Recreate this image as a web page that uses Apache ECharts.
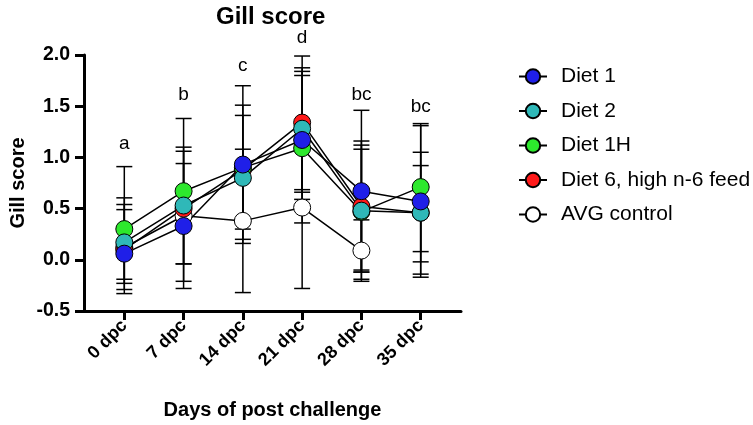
<!DOCTYPE html>
<html><head><meta charset="utf-8">
<script src="https://cdn.jsdelivr.net/npm/echarts@6/dist/echarts.min.js"></script>
<style>html,body{margin:0;padding:0;background:#fff}#c{width:753px;height:425px}</style>
</head><body><div id="c"></div>
<script>
const categories = ['0 dpc','7 dpc','14 dpc','21 dpc','28 dpc','35 dpc'];
const yTicks = [-0.5, 0.0, 0.5, 1.0, 1.5, 2.0];

const diet1     = [0.06, 0.33, 0.93, 1.17, 0.67, 0.57];
const diet1Low  = [-0.33, -0.28, 0.16, 0.59, -0.12, -0.17];
const diet1High = [0.49, 0.94, 1.70, 1.80, 1.46, 1.31];

const diet2     = [0.17, 0.53, 0.80, 1.28, 0.48, 0.46];
const diet2Low  = [-0.23, -0.04, 0.20, 0.685, -0.10, -0.02];
const diet2High = [0.54, 1.10, 1.41, 1.875, 1.08, 0.92];

const diet1H     = [0.30, 0.67, 0.90, 1.09, 0.47, 0.71];
const diet1HLow  = [-0.29, -0.04, 0.30, 0.36, -0.19, 0.08];
const diet1HHigh = [0.91, 1.38, 1.51, 1.84, 1.12, 1.33];

const diet6     = [0.10, 0.50, 0.88, 1.34, 0.52, 0.46];
const diet6Low  = [-0.19, null, null, 0.66, -0.12, -0.14];
const diet6High = [0.605, null, null, 1.99, 1.16, 1.05];

const avgControl     = [0.12, 0.43, 0.38, 0.51, 0.09, null];
const avgControlLow  = [null, -0.21, -0.32, -0.28, -0.21, null];
const avgControlHigh = [null, 1.06, 1.08, 1.30, 0.39, null];

const letters  = ['a', 'b', 'c', 'd', 'bc', 'bc'];
const letterY  = [1.13, 1.61, 1.89, 2.17, 1.61, 1.49];

const FONT = 'Liberation Sans, Arial, Helvetica, sans-serif';

function errData(lo, hi) {
  const out = [];
  categories.forEach((c, i) => { if (lo[i] != null && hi[i] != null) out.push([i, lo[i], hi[i]]); });
  return out;
}
function renderErr(params, api) {
  const x = api.value(0), lo = api.value(1), hi = api.value(2);
  const pt = api.coord([x, hi]), pb = api.coord([x, lo]);
  const w = 8;
  const st = { stroke: '#000', lineWidth: 1.5 };
  return { type: 'group', children: [
    { type: 'line', shape: { x1: pt[0], y1: pt[1], x2: pb[0], y2: pb[1] }, style: st },
    { type: 'line', shape: { x1: pt[0] - w, y1: pt[1], x2: pt[0] + w, y2: pt[1] }, style: st },
    { type: 'line', shape: { x1: pb[0] - w, y1: pb[1], x2: pb[0] + w, y2: pb[1] }, style: st }
  ]};
}
function pts(v) { return v.map((y, i) => y == null ? [i, null] : [i, y]); }
function lineSeries(name, values, color) {
  return {
    name, type: 'line', data: pts(values), symbol: 'circle', symbolSize: 17,
    itemStyle: { color, borderColor: '#000', borderWidth: 1, opacity: 1 },
    lineStyle: { color: '#000', width: 1.5 }, z: 3
  };
}
function errSeries(lo, hi) {
  return { type: 'custom', renderItem: renderErr, data: errData(lo, hi), z: 2, silent: true };
}

const chart = echarts.init(document.getElementById('c'));
chart.setOption({
  animation: false,
  backgroundColor: '#fff',
  textStyle: { fontFamily: FONT },
  title: { text: 'Gill score', left: 211, top: 0,
    textStyle: { fontFamily: FONT, fontSize: 24, fontWeight: 'bold', color: '#000' } },
  grid: { left: 77, right: 292, top: 55, bottom: 114, containLabel: false },
  legend: {
    orient: 'vertical', left: 513, top: 61, itemWidth: 28, itemHeight: 18, itemGap: 13.5,
    data: ['Diet 1', 'Diet 2', 'Diet 1H', 'Diet 6, high n-6 feed', 'AVG control'],
    textStyle: { fontFamily: FONT, fontSize: 21, color: '#000', padding: [0, 0, 0, 9] }
  },
  xAxis: {
    type: 'value', min: -0.68, max: 5.68,
    splitLine: { show: false },
    axisLine: { show: true, onZero: false, lineStyle: { color: '#000', width: 3 } },
    axisTick: { show: true, customValues: [0, 1, 2, 3, 4, 5], length: 9, lineStyle: { color: '#000', width: 3 } },
    axisLabel: { customValues: [0, 1, 2, 3, 4, 5], formatter: v => categories[Math.round(v)], rotate: 45,
      fontFamily: FONT, fontWeight: 'bold', fontSize: 18, color: '#000', margin: 12 },
    name: 'Days of post challenge', nameLocation: 'middle', nameGap: 89, nameMoveOverlap: false,
    nameTextStyle: { fontFamily: FONT, fontWeight: 'bold', fontSize: 20, color: '#000' }
  },
  yAxis: {
    type: 'value', min: -0.5, max: 2.0, interval: 0.5,
    splitLine: { show: false },
    axisLine: { show: true, onZero: false, lineStyle: { color: '#000', width: 3 } },
    axisTick: { show: true, length: 9, lineStyle: { color: '#000', width: 3 } },
    axisLabel: { formatter: v => v.toFixed(1), fontFamily: FONT, fontWeight: 'bold', fontSize: 19.5, color: '#000', margin: 14 },
    name: 'Gill score', nameLocation: 'middle', nameGap: 56, nameMoveOverlap: false,
    nameTextStyle: { fontFamily: FONT, fontWeight: 'bold', fontSize: 20, color: '#000' }
  },
  series: [
    errSeries(avgControlLow, avgControlHigh),
    errSeries(diet6Low, diet6High),
    errSeries(diet1HLow, diet1HHigh),
    errSeries(diet2Low, diet2High),
    errSeries(diet1Low, diet1High),
    lineSeries('AVG control', avgControl, '#ffffff'),
    lineSeries('Diet 6, high n-6 feed', diet6, '#ff1a1a'),
    lineSeries('Diet 1H', diet1H, '#2de82d'),
    lineSeries('Diet 2', diet2, '#2fb8b8'),
    lineSeries('Diet 1', diet1, '#1f1fe8'),
    {
      type: 'scatter', symbolSize: 0, clip: false, silent: true, z: 4,
      itemStyle: { opacity: 1 },
      data: letters.map((t, i) => [i, letterY[i], t]),
      label: { show: true, position: 'inside', formatter: p => p.value[2],
        fontFamily: FONT, fontSize: 19, color: '#000', opacity: 1 }
    }
  ]
});
</script></body></html>
